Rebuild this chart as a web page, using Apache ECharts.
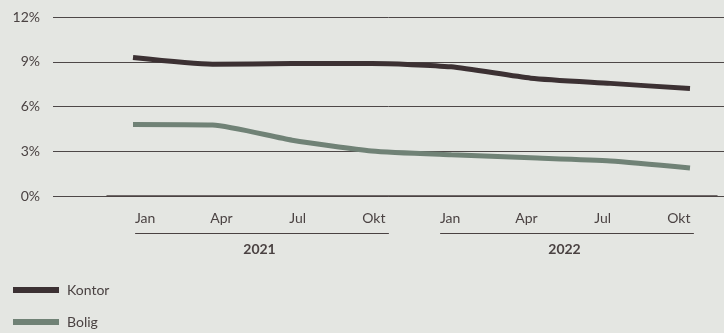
<!DOCTYPE html>
<html>
<head>
<meta charset="utf-8">
<script src="https://cdn.jsdelivr.net/npm/echarts@6/dist/echarts.min.js"></script>
<style>
html,body{margin:0;padding:0;background:#e4e6e2;}
#main{width:724px;height:333px;}
</style>
</head>
<body>
<div id="main"></div>
<script>
// data
var months = ['Jan','Apr','Jul','Okt','Jan','Apr','Jul','Okt'];
var years = ['2021','2022'];
var kontor = [9.28, 8.83, 8.88, 8.88, 8.66, 7.9, 7.55, 7.2];
var bolig = [4.8, 4.76, 3.74, 3.02, 2.76, 2.56, 2.35, 1.88];
var yTicks = [0, 3, 6, 9, 12];

var textColor = '#4a4242';
var font = 'Lato';

var chart = echarts.init(document.getElementById('main'));

var yMin = yTicks[0], yMax = yTicks[yTicks.length-1], yStep = yTicks[1]-yTicks[0];

// one legend per row
var legendRow = function(name, top){
    return {
        left: 13, top: top, padding: 0,
        itemWidth: 46, itemHeight: 6,
        icon: 'rect',
        textStyle: {fontSize: 14, color: textColor, fontFamily: font, padding: [0, 0, 0, 3]},
        data: [name]
    };
};

var option = {
    backgroundColor: '#e4e6e2',
    textStyle: {fontFamily: font},
    grid: [
        {left: 53, right: 0, top: 17, height: 179},   // gridlines + y labels
        {left: 107, right: 7, top: 17, height: 179},  // month / year labels
        {left: 133, right: 34, top: 17, height: 179}  // lines
    ],
    xAxis: [
        {gridIndex: 0, type: 'category', data: months, show: false},
        {
            gridIndex: 1, type: 'category', data: months, boundaryGap: true, position: 'bottom',
            axisLine: {lineStyle: {color: textColor, width: 1.5}},
            axisTick: {show: false},
            axisLabel: {margin: 15, fontSize: 14, color: textColor, fontFamily: font}
        },
        {
            gridIndex: 1, type: 'category', data: years, boundaryGap: true, position: 'bottom',
            axisLine: {show: false},
            axisTick: {show: false},
            axisLabel: {margin: 46, fontSize: 14, fontWeight: 'bold', color: textColor, fontFamily: font}
        },
        {gridIndex: 2, type: 'category', data: months, boundaryGap: false, show: false}
    ],
    yAxis: [
        {
            gridIndex: 0, type: 'value', min: yMin, max: yMax, interval: yStep,
            axisLine: {show: false}, axisTick: {show: false},
            axisLabel: {formatter: '{value}%', margin: 13, fontSize: 14, color: textColor, fontFamily: font},
            splitLine: {lineStyle: {color: '#4d4747', width: 1}}
        },
        {gridIndex: 1, type: 'value', min: yMin, max: yMax, show: false},
        {gridIndex: 2, type: 'value', min: yMin, max: yMax, show: false}
    ],
    legend: [legendRow('Kontor', 283), legendRow('Bolig', 315)],
    series: [
        {
            name: 'Kontor', type: 'line', xAxisIndex: 3, yAxisIndex: 2,
            data: kontor, symbol: 'none', smooth: 0.2,
            lineStyle: {width: 5, color: '#3c3133'}, itemStyle: {color: '#3c3133'}
        },
        {
            name: 'Bolig', type: 'line', xAxisIndex: 3, yAxisIndex: 2,
            data: bolig, symbol: 'none', smooth: 0.2,
            lineStyle: {width: 5, color: '#708276'}, itemStyle: {color: '#708276'}
        }
    ]
};

chart.setOption(option);

// lines under each year group, from the month axis
var drawUnderlines = function(){
    var lines = [];
    var per = months.length / years.length;
    years.forEach(function(y, i){
        var x0 = chart.convertToPixel({xAxisIndex: 1}, i*per);
        var x1 = chart.convertToPixel({xAxisIndex: 1}, i*per + per - 1);
        lines.push({
            type: 'line', silent: true,
            shape: {x1: x0 - 10, y1: 233.5, x2: x1 + 15, y2: 233.5},
            style: {stroke: textColor, lineWidth: 1.2}
        });
    });
    chart.setOption({graphic: lines});
};
drawUnderlines();
</script>
</body>
</html>
